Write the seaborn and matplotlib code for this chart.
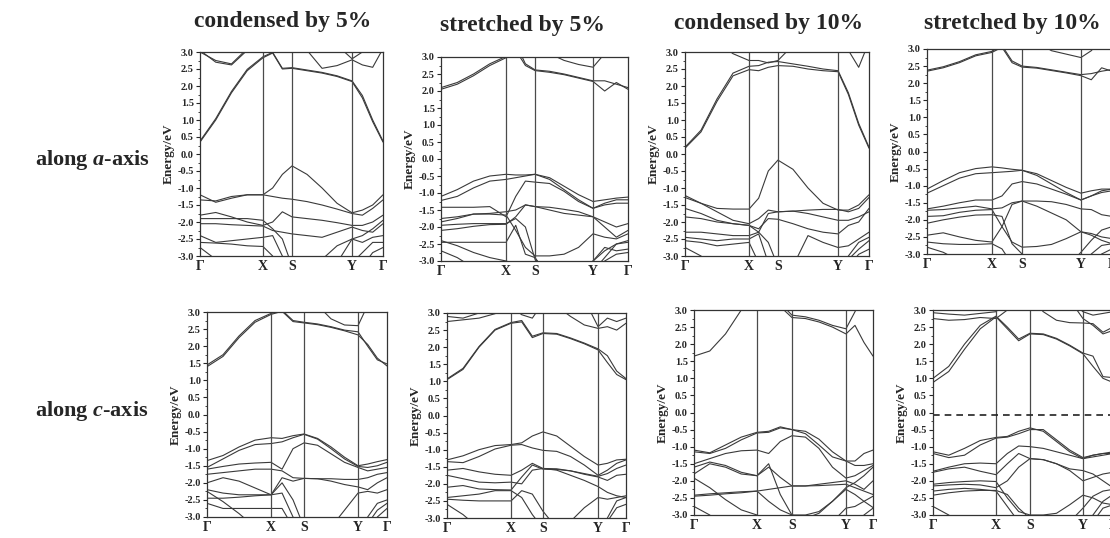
import numpy as np
import pandas as pd
import matplotlib
matplotlib.use("Agg")
import matplotlib.pyplot as plt
import seaborn as sns

# ---------------- text ----------------
titles = ["condensed by 5%", "stretched by 5%", "condensed by 10%", "stretched by 10%"]
row_labels = [r"along $\mathit{a}$-axis", r"along $\mathit{c}$-axis"]
kpoint_labels = ["Γ", "X", "S", "Y", "Γ"]
energy_ticks = [-3.0, -2.5, -2.0, -1.5, -1.0, -0.5, 0.0, 0.5, 1.0, 1.5, 2.0, 2.5, 3.0]

# relative k-path positions of Γ, X, S, Y, Γ in each panel
nodes_a_cond5 = [0, 0.344, 0.503, 0.831, 1]
nodes_a_str5 = [0, 0.348, 0.503, 0.813, 1]
nodes_a_cond10 = [0, 0.348, 0.505, 0.832, 1]
nodes_a_str10 = [0, 0.351, 0.514, 0.832, 1]
nodes_c_cond5 = [0, 0.356, 0.539, 0.839, 1]
nodes_c_str5 = [0, 0.358, 0.536, 0.844, 1]
nodes_c_cond10 = [0, 0.352, 0.547, 0.849, 1]
nodes_c_str10 = [0, 0.350, 0.539, 0.833, 1]

# sampling fractions along each path segment (Γ-X, X-S, S-Y, Y-Γ)
segment_samples = [[0, 0.25, 0.5, 0.75, 1], [1/3, 2/3, 1], [0.25, 0.5, 0.75, 1], [1/3, 2/3, 1]]

# ---------------- band energies (eV), 15 samples each ----------------
bands_a_cond5 = [
    [0.35, 1.0, 1.8, 2.45, 2.83, 2.97, 2.5, 2.52, 2.45, 2.38, 2.28, 2.13, 1.65, 0.95, 0.35],
    [0.38, 1.04, 1.84, 2.49, 2.86, 2.99, 2.52, 2.54, 2.47, 2.4, 2.3, 2.15, 1.72, 1.0, 0.38],
    [3.05, 2.7, 2.62, 3.05, 3.3, 3.4, 3.4, 3.3, 3.05, 2.52, 2.6, 2.77, 2.62, 2.55, 3.1],
    [3.0, 2.75, 2.65, 3.1, 3.4, 3.4, 3.4, 3.4, 3.4, 3.4, 3.2, 2.8, 3.0, 3.4, 3.4],
    [-1.2, -1.42, -1.3, -1.2, -1.2, -1.0, -0.6, -0.35, -0.6, -1.0, -1.45, -1.73, -1.65, -1.5, -1.2],
    [-1.35, -1.38, -1.25, -1.2, -1.2, -1.25, -1.3, -1.33, -1.4, -1.5, -1.62, -1.75, -1.8, -1.6, -1.35],
    [-1.8, -1.72, -1.85, -2.0, -2.1, -2.0, -1.7, -1.85, -1.9, -1.95, -2.02, -2.1, -2.1, -2.0, -1.8],
    [-1.9, -1.9, -1.9, -1.9, -1.95, -2.2, -2.5, -3.3, -3.3, -3.1, -2.7, -2.5, -2.4, -2.2, -1.95],
    [-2.05, -2.05, -2.08, -2.1, -2.12, -2.25, -2.3, -2.35, -2.4, -2.45, -2.3, -2.15, -2.25, -2.3, -2.05],
    [-2.4, -2.6, -2.55, -2.5, -2.45, -2.4, -3.0, -3.4, -3.4, -3.4, -3.2, -2.5, -2.6, -2.45, -2.4],
    [-2.6, -2.62, -2.65, -2.7, -2.72, -3.0, -3.5, -3.5, -3.5, -3.5, -3.4, -3.2, -2.9, -2.6, -2.6],
    [-2.75, -3.1, -3.5, -3.5, -3.5, -3.5, -3.5, -3.5, -3.5, -3.5, -3.5, -3.5, -3.3, -2.9, -2.75],
]
bands_a_str5 = [
    [2.05, 2.2, 2.45, 2.75, 2.98, 3.2, 2.75, 2.6, 2.55, 2.48, 2.38, 2.28, 2.0, 2.25, 2.05],
    [2.1, 2.25, 2.5, 2.8, 3.02, 3.4, 2.8, 2.62, 2.58, 2.5, 2.4, 2.3, 2.3, 2.2, 2.1],
    [3.3, 3.3, 3.3, 3.3, 3.1, 3.3, 3.3, 3.3, 3.1, 2.9, 2.78, 2.7, 3.1, 3.4, 3.4],
    [-1.1, -0.9, -0.65, -0.5, -0.45, -0.47, -0.47, -0.45, -0.55, -0.8, -1.05, -1.25, -1.2, -1.15, -1.12],
    [-1.22, -1.1, -0.85, -0.65, -0.6, -0.55, -0.5, -0.45, -0.6, -0.9, -1.2, -1.45, -1.3, -1.2, -1.2],
    [-1.42, -1.42, -1.42, -1.4, -1.7, -1.1, -0.65, -0.68, -0.72, -0.95, -1.25, -1.45, -1.35, -1.3, -1.3],
    [-1.75, -1.7, -1.62, -1.6, -1.55, -1.5, -1.35, -1.4, -1.42, -1.48, -1.55, -1.7, -1.85, -2.0, -1.9],
    [-1.85, -1.75, -1.62, -1.62, -1.65, -2.1, -2.6, -2.85, -2.85, -2.8, -2.6, -2.2, -2.3, -2.35, -2.2],
    [-1.95, -1.92, -1.9, -1.9, -1.9, -1.75, -2.0, -2.95, -3.3, -3.5, -3.3, -3.0, -2.7, -2.5, -2.4],
    [-2.1, -2.05, -1.98, -1.93, -1.92, -1.7, -1.35, -1.4, -1.5, -1.6, -1.65, -1.7, -2.0, -2.3, -2.1],
    [-2.45, -2.45, -2.45, -2.45, -2.45, -1.95, -2.8, -2.9, -3.5, -3.5, -3.5, -3.3, -2.9, -2.5, -2.45],
    [-2.4, -2.55, -2.75, -2.9, -3.0, -3.1, -3.5, -3.5, -3.5, -3.5, -3.5, -3.0, -2.6, -2.7, -2.65],
    [-2.7, -2.9, -3.2, -3.5, -3.5, -3.5, -3.5, -3.5, -3.5, -3.5, -3.5, -3.5, -3.0, -2.8, -2.75],
]
bands_a_cond10 = [
    [0.17, 0.65, 1.55, 2.3, 2.48, 2.45, 2.55, 2.6, 2.58, 2.5, 2.45, 2.42, 1.75, 0.85, 0.17],
    [0.2, 0.7, 1.62, 2.38, 2.58, 2.6, 2.7, 2.72, 2.65, 2.58, 2.5, 2.45, 1.8, 0.9, 0.2],
    [3.5, 3.5, 3.3, 2.95, 2.75, 2.75, 2.68, 2.75, 3.2, 3.5, 3.5, 3.5, 3.05, 2.55, 3.3],
    [-1.22, -1.45, -1.6, -1.62, -1.62, -1.3, -0.5, -0.18, -0.45, -1.0, -1.45, -1.65, -1.65, -1.5, -1.2],
    [-1.28, -1.45, -1.7, -1.95, -2.05, -1.9, -1.65, -1.7, -1.68, -1.65, -1.63, -1.63, -1.7, -1.6, -1.28],
    [-1.6, -1.75, -1.95, -2.05, -2.1, -2.2, -1.9, -1.92, -2.05, -2.2, -2.3, -2.35, -2.1, -2.0, -1.6],
    [-1.85, -1.9, -2.0, -2.05, -2.1, -2.3, -1.75, -1.7, -1.68, -1.75, -1.85, -1.95, -1.95, -1.85, -1.7],
    [-2.3, -2.3, -2.35, -2.4, -2.4, -2.3, -2.6, -3.3, -3.3, -2.4, -2.6, -2.75, -2.7, -2.5, -2.3],
    [-2.45, -2.5, -2.55, -2.5, -2.5, -2.35, -3.2, -3.5, -3.5, -3.5, -3.5, -3.5, -3.0, -2.6, -2.45],
    [-2.55, -2.6, -2.7, -2.65, -2.6, -3.2, -3.5, -3.5, -3.5, -3.5, -3.5, -3.5, -3.1, -2.8, -2.55],
    [-2.75, -3.0, -3.4, -3.5, -3.5, -3.5, -3.5, -3.5, -3.5, -3.5, -3.5, -3.5, -3.3, -2.95, -2.8],
]
bands_a_str10 = [
    [2.35, 2.45, 2.6, 2.8, 2.9, 3.05, 2.6, 2.47, 2.44, 2.37, 2.3, 2.22, 2.1, 2.45, 2.35],
    [2.38, 2.48, 2.63, 2.83, 2.93, 3.1, 2.65, 2.5, 2.46, 2.39, 2.32, 2.25, 2.28, 2.35, 2.4],
    [3.3, 3.3, 3.3, 3.3, 3.3, 3.3, 3.3, 3.3, 3.2, 2.95, 2.85, 2.75, 2.95, 3.3, 3.3],
    [-1.1, -0.85, -0.62, -0.5, -0.45, -0.48, -0.52, -0.55, -0.65, -0.85, -1.05, -1.22, -1.15, -1.1, -1.1],
    [-1.22, -1.0, -0.78, -0.65, -0.62, -0.6, -0.58, -0.55, -0.7, -0.95, -1.2, -1.42, -1.3, -1.15, -1.1],
    [-1.68, -1.6, -1.5, -1.42, -1.42, -1.3, -0.95, -0.88, -0.95, -1.1, -1.25, -1.42, -1.3, -1.2, -1.15],
    [-1.72, -1.7, -1.65, -1.6, -1.68, -1.65, -1.5, -1.45, -1.45, -1.47, -1.55, -1.68, -1.7, -1.85, -1.9],
    [-1.9, -1.88, -1.78, -1.72, -1.7, -2.2, -2.65, -2.8, -2.78, -2.72, -2.55, -2.35, -2.45, -2.6, -2.7],
    [-2.1, -2.0, -1.92, -1.86, -1.85, -1.9, -2.7, -3.0, -3.3, -3.5, -3.4, -2.95, -2.6, -2.3, -2.2],
    [-2.45, -2.38, -2.5, -2.6, -2.65, -2.2, -1.55, -1.45, -1.6, -1.8, -2.0, -2.35, -2.4, -2.5, -2.55],
    [-2.65, -2.7, -2.72, -2.72, -2.7, -2.85, -3.3, -3.5, -3.5, -3.5, -3.5, -3.5, -3.0, -2.75, -2.7],
    [-2.8, -2.95, -3.2, -3.5, -3.5, -3.5, -3.5, -3.5, -3.5, -3.5, -3.5, -3.5, -3.3, -3.0, -2.85],
]
bands_c_cond5 = [
    [1.4, 1.7, 2.25, 2.7, 2.93, 3.02, 2.72, 2.68, 2.63, 2.55, 2.45, 2.33, 2.05, 1.65, 1.42],
    [1.45, 1.75, 2.3, 2.75, 2.96, 3.05, 2.75, 2.7, 2.65, 2.57, 2.47, 2.42, 2.0, 1.6, 1.48],
    [3.3, 3.3, 3.3, 3.3, 3.3, 3.3, 3.3, 3.3, 3.2, 2.8, 2.62, 2.6, 3.2, 3.4, 3.4],
    [-1.35, -1.2, -0.95, -0.75, -0.68, -0.7, -0.62, -0.57, -0.7, -0.95, -1.25, -1.5, -1.45, -1.38, -1.32],
    [-1.55, -1.3, -1.05, -0.88, -0.85, -0.8, -0.68, -0.58, -0.72, -1.0, -1.3, -1.52, -1.55, -1.5, -1.4],
    [-1.6, -1.52, -1.45, -1.42, -1.4, -1.6, -1.0, -0.83, -0.9, -1.15, -1.4, -1.55, -1.65, -1.6, -1.55],
    [-1.75, -1.7, -1.65, -1.6, -1.6, -1.65, -1.85, -1.87, -1.88, -1.88, -1.9, -1.9, -1.85, -1.75, -1.7],
    [-2.0, -1.85, -1.95, -2.15, -2.35, -1.85, -1.95, -1.87, -1.88, -1.95, -2.05, -2.12, -2.2, -2.0, -1.85],
    [-2.2, -2.3, -2.35, -2.35, -2.35, -2.0, -2.5, -3.3, -3.4, -3.3, -2.8, -2.3, -2.25, -2.3, -2.2],
    [-2.25, -2.55, -2.9, -3.3, -3.5, -3.5, -3.5, -3.5, -3.5, -3.5, -3.5, -3.5, -3.0, -2.6, -2.5],
    [-2.45, -2.45, -2.42, -2.38, -2.35, -2.3, -3.0, -3.5, -3.5, -3.5, -3.5, -3.5, -3.2, -2.8, -2.6],
    [-2.6, -2.75, -2.75, -2.75, -2.75, -2.75, -3.3, -3.5, -3.5, -3.5, -3.5, -3.5, -3.5, -3.0, -2.75],
]
bands_c_str5 = [
    [1.05, 1.35, 2.0, 2.5, 2.7, 2.74, 2.28, 2.4, 2.38, 2.25, 2.1, 1.92, 1.55, 1.2, 1.05],
    [1.07, 1.38, 2.02, 2.52, 2.72, 2.78, 2.32, 2.42, 2.4, 2.27, 2.12, 1.95, 1.75, 1.3, 1.08],
    [2.75, 2.8, 2.85, 2.98, 3.2, 2.95, 2.85, 3.3, 3.2, 2.9, 2.65, 2.55, 2.6, 2.5, 2.7],
    [2.9, 2.85, 3.0, 3.2, 3.3, 3.1, 3.3, 3.4, 3.4, 3.4, 3.4, 2.6, 2.85, 2.75, 2.85],
    [-1.3, -1.18, -1.0, -0.88, -0.85, -0.8, -0.6, -0.48, -0.6, -0.9, -1.2, -1.45, -1.4, -1.3, -1.28],
    [-1.35, -1.38, -1.2, -0.98, -0.87, -0.85, -0.95, -1.02, -1.05, -1.2, -1.45, -1.75, -1.6, -1.4, -1.3],
    [-1.6, -1.55, -1.65, -1.72, -1.75, -1.6, -1.4, -1.55, -1.56, -1.62, -1.72, -1.8, -1.9, -1.75, -1.72],
    [-1.75, -1.85, -1.95, -1.97, -1.95, -2.0, -1.6, -1.55, -1.6, -1.75, -1.9, -2.08, -2.25, -2.35, -2.4],
    [-2.1, -2.05, -2.15, -2.17, -2.18, -1.8, -1.45, -1.57, -1.58, -1.62, -1.7, -1.78, -1.7, -1.55, -1.45],
    [-2.4, -2.35, -2.3, -2.2, -2.2, -2.4, -2.9, -3.3, -3.4, -3.1, -2.7, -2.4, -2.45, -2.4, -2.35],
    [-2.45, -2.48, -2.5, -2.5, -2.5, -2.2, -2.3, -2.8, -3.3, -3.5, -3.5, -3.5, -3.0, -2.5, -2.4],
    [-2.6, -2.9, -3.3, -3.5, -3.5, -3.5, -3.5, -3.5, -3.5, -3.5, -3.5, -3.5, -3.1, -2.7, -2.6],
]
bands_c_cond10 = [
    [1.65, 1.8, 2.3, 3.0, 3.5, 3.5, 3.1, 2.78, 2.75, 2.65, 2.5, 2.3, 2.55, 2.05, 1.65],
    [3.5, 3.5, 3.5, 3.5, 3.5, 3.5, 3.2, 2.85, 2.8, 2.7, 2.55, 2.45, 2.95, 3.5, 3.5],
    [-1.1, -1.18, -0.95, -0.72, -0.58, -0.55, -0.42, -0.5, -0.62, -0.95, -1.3, -1.42, -1.42, -1.2, -1.1],
    [-1.15, -1.2, -1.05, -0.8, -0.6, -0.58, -0.45, -0.5, -0.55, -0.78, -1.15, -1.42, -1.55, -1.55, -1.5],
    [-1.5, -1.35, -1.2, -1.12, -1.1, -1.2, -0.85, -0.68, -0.72, -1.05, -1.6, -1.92, -1.85, -1.7, -1.55],
    [-1.6, -1.45, -1.55, -1.75, -1.85, -1.5, -2.4, -3.0, -3.1, -2.95, -2.6, -2.2, -2.05, -1.85, -1.6],
    [-1.8, -1.5, -1.6, -1.8, -1.85, -1.6, -1.9, -2.15, -2.15, -2.1, -2.05, -2.0, -2.1, -2.25, -2.0],
    [-1.92, -2.2, -2.55, -2.85, -3.0, -3.3, -3.5, -3.5, -3.5, -3.5, -3.2, -2.8, -2.75, -2.6, -2.45],
    [-2.42, -2.38, -2.35, -2.32, -2.3, -2.25, -2.2, -2.15, -2.15, -2.14, -2.12, -2.1, -2.2, -2.3, -2.4],
    [-2.45, -2.42, -2.38, -2.35, -2.3, -2.6, -2.85, -3.0, -3.0, -2.9, -2.6, -2.25, -2.4, -2.6, -2.78],
    [-2.75, -3.0, -3.5, -3.5, -3.5, -3.5, -3.5, -3.5, -3.5, -3.5, -3.5, -3.5, -3.3, -3.0, -2.8],
]
bands_c_str10 = [
    [0.88, 1.2, 1.85, 2.45, 2.8, 2.45, 2.1, 2.3, 2.28, 2.15, 1.95, 1.72, 1.35, 1.0, 0.88],
    [1.0, 1.35, 2.0, 2.55, 2.82, 2.5, 2.15, 2.32, 2.3, 2.17, 1.97, 1.74, 1.65, 1.05, 1.02],
    [3.4, 3.4, 3.4, 3.4, 3.4, 3.4, 3.4, 3.4, 2.95, 2.7, 2.63, 2.62, 2.6, 2.35, 2.5],
    [2.92, 2.88, 2.85, 2.9, 2.95, 3.3, 3.3, 3.3, 3.3, 3.3, 3.3, 2.95, 2.85, 2.9, 2.95],
    [2.75, 2.7, 2.72, 2.78, 2.75, 3.0, 3.3, 3.3, 3.3, 3.3, 3.3, 2.75, 2.55, 2.3, 2.4],
    [-1.15, -1.25, -1.05, -0.82, -0.73, -0.7, -0.55, -0.45, -0.55, -0.85, -1.15, -1.35, -1.25, -1.2, -1.15],
    [-1.2, -1.32, -1.25, -0.95, -0.75, -0.72, -0.62, -0.5, -0.5, -0.8, -1.1, -1.32, -1.25, -1.2, -1.2],
    [-1.72, -1.6, -1.5, -1.48, -1.5, -1.2, -0.98, -1.0, -1.05, -1.15, -1.25, -1.35, -1.3, -1.25, -1.2],
    [-1.75, -1.65, -1.6, -1.72, -1.82, -1.5, -1.2, -1.35, -1.38, -1.5, -1.7, -2.0, -1.9, -1.8, -1.75],
    [-2.1, -2.05, -2.02, -2.0, -2.02, -2.5, -2.9, -3.0, -3.0, -2.95, -2.7, -2.42, -2.5, -2.65, -2.7],
    [-2.15, -2.12, -2.1, -2.12, -2.2, -2.0, -1.6, -1.35, -1.38, -1.5, -1.65, -1.7, -1.8, -2.0, -2.2],
    [-2.3, -2.25, -2.22, -2.25, -2.3, -2.75, -3.2, -3.5, -3.5, -3.5, -3.5, -3.5, -3.0, -2.6, -2.4],
    [-2.42, -2.35, -2.3, -2.28, -2.28, -2.4, -2.8, -3.1, -3.5, -3.5, -3.2, -2.8, -2.45, -2.3, -2.25],
    [-2.75, -3.0, -3.4, -3.5, -3.5, -3.5, -3.5, -3.5, -3.5, -3.5, -3.5, -3.5, -3.2, -2.8, -2.7],
]
fermi_c_str10 = -0.07

# ---------------- style ----------------
sns.set_theme(style="white")
plt.rcParams["font.family"] = ["Liberation Serif", "DejaVu Serif"]
plt.rcParams["font.weight"] = "bold"
plt.rcParams["axes.unicode_minus"] = False
plt.rcParams["mathtext.fontset"] = "custom"
plt.rcParams["mathtext.rm"] = "Liberation Serif:bold"
plt.rcParams["mathtext.it"] = "Liberation Serif:italic:bold"

W, H = 1110, 538
fig = plt.figure(figsize=(W / 100, H / 100), dpi=100)
fig.patch.set_facecolor("white")

def px_axes(l, r, t, b):
    return fig.add_axes([l / W, 1 - b / H, (r - l) / W, (b - t) / H])

def kcoords(nodes):
    ks = []
    for i, fr in enumerate(segment_samples):
        for f in fr:
            ks.append(nodes[i] + f * (nodes[i + 1] - nodes[i]))
    return ks

LINE = "#3a3a3a"

def draw_panel(ax, nodes, bands, fermi=None):
    k = kcoords(nodes)
    rows = []
    for b, vals in enumerate(bands):
        for kk, e in zip(k, vals):
            rows.append((b, kk, e))
    df = pd.DataFrame(rows, columns=["band", "k", "E"])
    sns.lineplot(data=df, x="k", y="E", units="band", estimator=None, sort=False,
                 color=LINE, linewidth=0.8, ax=ax, legend=False)
    for n in nodes[1:-1]:
        ax.axvline(n, color="#4a4a4a", lw=0.9)
    if fermi is not None:
        ax.axhline(fermi, color="#222222", lw=1.2, ls=(0, (4, 3)))
    ax.set_xlim(0, 1)
    ax.set_ylim(-3, 3)
    ax.set_xticks(nodes)
    ax.set_xticklabels(kpoint_labels, fontsize=10, fontweight="bold")
    ax.set_yticks(energy_ticks)
    ax.set_yticklabels([f"{v:.1f}" for v in energy_ticks], fontsize=7.5, fontweight="bold")
    ax.set_yticks(np.arange(-3, 3.01, 0.25), minor=True)
    ax.tick_params(axis="y", which="major", direction="out", length=3, width=0.8, pad=1.5, left=True)
    ax.tick_params(axis="y", which="minor", direction="out", length=1.5, width=0.6, left=True)
    ax.tick_params(axis="x", which="major", length=0, pad=3)
    ax.set_xlabel("")
    ax.set_ylabel("Energy/eV", fontsize=9.5, fontweight="bold", labelpad=2)
    for s in ax.spines.values():
        s.set_color("#333333")
        s.set_linewidth(0.9)

panels = [
    ((200, 383, 52, 256), nodes_a_cond5, bands_a_cond5, None),
    ((441, 628, 57, 261), nodes_a_str5, bands_a_str5, None),
    ((685, 869, 52, 256), nodes_a_cond10, bands_a_cond10, None),
    ((927, 1112, 49, 254), nodes_a_str10, bands_a_str10, None),
    ((207, 387, 312, 517), nodes_c_cond5, bands_c_cond5, None),
    ((447, 626, 313, 518), nodes_c_str5, bands_c_str5, None),
    ((694, 873, 310, 515), nodes_c_cond10, bands_c_cond10, None),
    ((933, 1113, 310, 515), nodes_c_str10, bands_c_str10, fermi_c_str10),
]
for box, nodes, bands, fermi in panels:
    ax = px_axes(*box)
    draw_panel(ax, nodes, bands, fermi)

title_pos = [(283, 22), (522, 25), (769, 24), (1012, 23)]
for t, (x, y) in zip(titles, title_pos):
    fig.text(x / W, 1 - y / H, t, ha="center", va="center", fontsize=17, fontweight="bold")

for lab, y in zip(row_labels, [160, 411]):
    fig.text(35 / W, 1 - y / H, lab, ha="left", va="center", fontsize=16, fontweight="bold")

fig.savefig("out.png", dpi=100, facecolor="white")
